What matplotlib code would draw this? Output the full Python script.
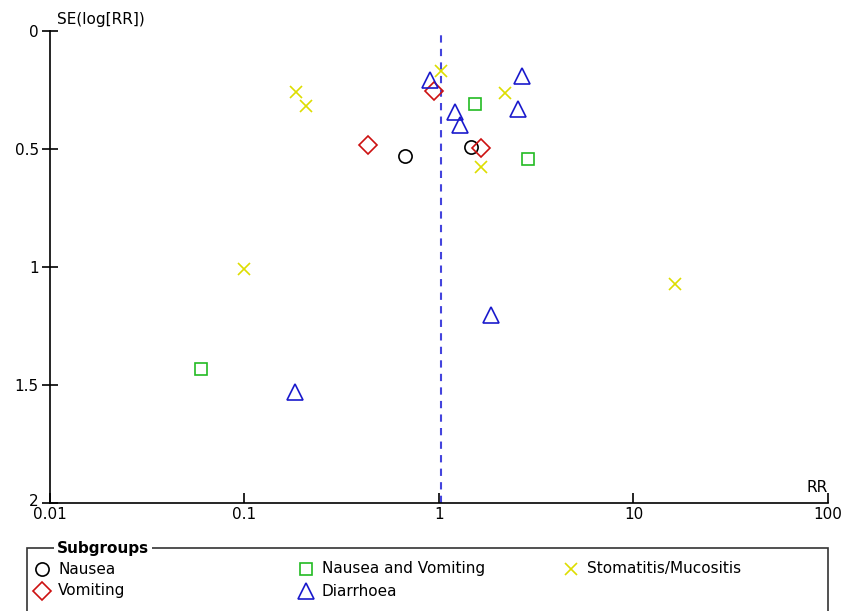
import matplotlib
matplotlib.use("Agg")
import matplotlib.pyplot as plt
from matplotlib.lines import Line2D
from matplotlib.patches import Rectangle
from matplotlib.transforms import ScaledTranslation

plt.rcParams['font.family'] = ['DejaVu Sans']

# Data (RR, SE(log RR)) per subgroup
nausea_rr = [0.67, 1.46]
nausea_se = [0.53, 0.49]
vomiting_rr = [0.43, 0.94, 1.64]
vomiting_se = [0.483, 0.254, 0.496]
nv_rr = [1.53, 2.87, 0.06]
nv_se = [0.309, 0.542, 1.432]
stoma_rr = [0.184, 0.207, 1.02, 2.18, 1.64, 0.10, 16.3]
stoma_se = [0.258, 0.318, 0.17, 0.263, 0.576, 1.008, 1.072]
diarr_rr = [0.90, 2.67, 2.55, 1.21, 1.28, 1.85, 0.182]
diarr_se = [0.208, 0.19, 0.33, 0.343, 0.398, 1.203, 1.53]
pooled_rr = 1.02

xticks = [0.01, 0.1, 1, 10, 100]
xticklabels = ['0.01', '0.1', '1', '10', '100']
yticks = [0, 0.5, 1, 1.5, 2]
yticklabels = ['0', '0.5', '1', '1.5', '2']

W, H = 854, 611
fig = plt.figure(figsize=(W / 100, H / 100), dpi=100)
ax = fig.add_axes([50 / W, 1 - 503 / H, (828 - 50) / W, (503 - 31) / H])

series = [
    ('Nausea', nausea_rr, nausea_se, 'o', '#000000', 9.5),
    ('Vomiting', vomiting_rr, vomiting_se, 'D', '#cc1111', 9.3),
    ('Nausea and Vomiting', nv_rr, nv_se, 's', '#22bb22', 8.6),
    ('Diarrhoea', diarr_rr, diarr_se, '^', '#1a1acc', 12.0),
    ('Stomatitis/Mucositis', stoma_rr, stoma_se, 'x', '#dddd00', 8.0),
]
for name, xs, ys, m, c, ms in series:
    ax.plot(xs, ys, linestyle='none', marker=m, markersize=ms,
            markerfacecolor='none', markeredgecolor=c, markeredgewidth=1.2,
            clip_on=False, zorder=3)

ax.axvline(pooled_rr, color='#4444dd', linestyle=(0, (3.5, 3)), linewidth=1.5, zorder=2)

ax.set_xscale('log')
ax.set_xlim(0.01, 100)
ax.set_ylim(2, 0)
ax.set_xticks(xticks)
ax.set_xticklabels(xticklabels)
ax.minorticks_off()
ax.set_yticks(yticks)
ax.set_yticklabels(yticklabels)
for s in ['top', 'right']:
    ax.spines[s].set_visible(False)
for s in ['left', 'bottom']:
    ax.spines[s].set_linewidth(1.2)
ax.tick_params(axis='x', direction='in', length=7, width=1.2, labelsize=11, pad=3)
ax.tick_params(axis='y', direction='inout', length=12, width=1.2, labelsize=11, pad=2)

# nudge the bottom y label slightly up so it does not collide with "0.01"
ylabs = ax.get_yticklabels()
ylabs[-1].set_transform(ylabs[-1].get_transform() + ScaledTranslation(0, 3 / 100, fig.dpi_scale_trans))

ax.text(1.0, 8 / (503 - 31), 'RR', transform=ax.transAxes, ha='right', va='bottom', fontsize=11)
fig.text(57 / W, 1 - 24 / H, 'SE(log[RR])', ha='left', va='baseline', fontsize=11)

# Legend box
lx0, lx1, ly0 = 27, 828, 548
fig.add_artist(Rectangle((lx0 / W, -0.05), (lx1 - lx0) / W, 1 - ly0 / H + 0.05,
                         transform=fig.transFigure, fill=False, edgecolor='#333333', linewidth=1.2))
fig.text(57 / W, 1 - 549 / H, 'Subgroups', ha='left', va='center', fontsize=11, fontweight='bold',
         bbox=dict(facecolor='white', edgecolor='none', pad=2))

entries = [
    ('Nausea', 'o', '#000000', 9.5, 42, 569),
    ('Nausea and Vomiting', 's', '#22bb22', 8.6, 306, 569),
    ('Stomatitis/Mucositis', 'x', '#dddd00', 8.0, 571, 569),
    ('Vomiting', 'D', '#cc1111', 9.3, 42, 591),
    ('Diarrhoea', '^', '#1a1acc', 12.0, 306, 591),
]
for name, m, c, ms, px, py in entries:
    fig.add_artist(Line2D([px / W], [1 - py / H], marker=m, markersize=ms, markerfacecolor='none',
                          markeredgecolor=c, markeredgewidth=1.2, linestyle='none',
                          transform=fig.transFigure))
    fig.text((px + 16) / W, 1 - py / H, name, ha='left', va='center', fontsize=11)

fig.savefig('out.png', dpi=100)
